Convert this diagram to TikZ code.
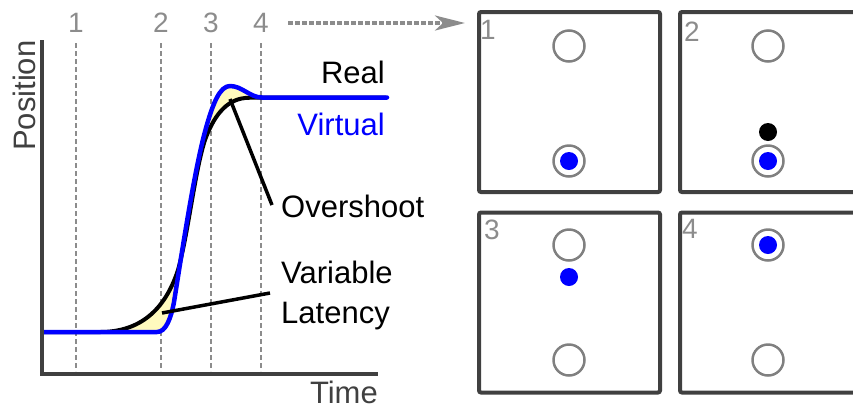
\documentclass[tikz,border=0pt]{standalone}
\usepackage{fontspec}
\setmainfont{Liberation Sans}
\usetikzlibrary{arrows.meta}
\definecolor{axisgray}{HTML}{404040}
\definecolor{guidegray}{HTML}{8C8C8C}
\definecolor{ringgray}{HTML}{808080}
\definecolor{gapyellow}{RGB}{255,250,190}
\definecolor{virtblue}{RGB}{0,0,255}
\begin{document}
\begin{tikzpicture}[x=1pt,y=-1pt,
  lbl/.style={inner sep=0pt, font=\fontsize{31}{37}\selectfont},
  tick/.style={inner sep=0pt, text=guidegray, font=\fontsize{28}{34}\selectfont},
  guide/.style={guidegray, line width=2pt, dash pattern=on 5pt off 3pt},
  axis/.style={axisgray, line width=4pt},
  realcurve/.style={black, line width=4pt, line join=round},
  virtcurve/.style={virtblue, line width=4.5pt, line join=round, line cap=round},
  pointer/.style={black, line width=3.5pt},
  panel/.style={draw=axisgray, line width=4pt, rounded corners=2pt,
    minimum width=181pt, minimum height=180pt, inner sep=0pt},
  ring/.style={circle, draw=ringgray, line width=2.5pt, minimum size=31pt, inner sep=0pt},
  dot/.style={circle, minimum size=18pt, inner sep=0pt},
  flow/.style={guidegray, line width=3.5pt, dash pattern=on 4.5pt off 2.5pt,
    -{Stealth[length=30pt, width=15pt, inset=8pt]}}
]
\useasboundingbox (0,0) rectangle (853,408);
\clip (0,0) rectangle (853,408);

% ---- time instants ----
\node[tick, anchor=base] (t1) at (76,32) {1};
\node[tick, anchor=base] (t2) at (161,32) {2};
\node[tick, anchor=base] (t3) at (211,32) {3};
\node[tick, anchor=base] (t4) at (261,32) {4};
\foreach \x in {76,161,211,261}
  \draw[guide] (\x,43) -- (\x,371);

% ---- gap between real and virtual trajectories ----
\fill[gapyellow] (42,332) -- (157,332)
  .. controls (166,332) and (171,318) .. (174,302)
  .. controls (180,265) and (194,170) .. (206,128)
  .. controls (213,103) and (220,86) .. (230,86)
  .. controls (242,86) and (250,97.5) .. (262,97.5)
  .. controls (256,97.5) and (252,97.5) .. (245,98)
  .. controls (225,100) and (213,118) .. (205,140)
  .. controls (195,170) and (188,235) .. (178,270)
  .. controls (165,310) and (140,332) .. (100,332) -- cycle;

% ---- real trajectory ----
\draw[realcurve] (44,332) -- (100,332)
  .. controls (140,332) and (165,310) .. (178,270)
  .. controls (188,235) and (195,170) .. (205,140)
  .. controls (213,118) and (225,100) .. (245,98)
  .. controls (252,97.5) and (256,97.5) .. (262,97.5) -- (386,97.5);

% ---- virtual trajectory ----
\draw[virtcurve] (44,332) -- (157,332)
  .. controls (166,332) and (171,318) .. (174,302)
  .. controls (180,265) and (194,170) .. (206,128)
  .. controls (213,103) and (220,86) .. (230,86)
  .. controls (242,86) and (250,97.5) .. (262,97.5) -- (387,97.5);

% ---- axes ----
\draw[axis] (42,40) -- (42,374) -- (378,374);
\node[lbl, text=axisgray, rotate=90, anchor=base west] (ylab) at (35,151) {Position};
\node[lbl, text=axisgray, anchor=base east] (xlab) at (378,403) {Time};

% ---- curve labels ----
\node[lbl, anchor=base east] (real) at (385,83) {Real};
\node[lbl, text=virtblue, anchor=base east] (virt) at (385,135) {Virtual};
\node[lbl, anchor=base west] (over) at (281,217) {Overshoot};
\node[lbl, anchor=base west] (var) at (281,283) {Variable};
\node[lbl, anchor=base west] (lat) at (281,323) {Latency};

\coordinate (ovtip) at (230,99);
\coordinate (ovend) at (272,205);
\coordinate (lattip) at (162,313);
\coordinate (latend) at (270,293);
\draw[pointer] (ovtip) -- (ovend);
\draw[pointer] (lattip) -- (latend);

% ---- link to the snapshots ----
\coordinate (flowA) at (288,23);
\coordinate (flowB) at (465,23);
\draw[flow] (flowA) -- (flowB);

% ---- snapshots ----
\node[panel] (p1) at (569.5,102) {};
\node[panel] (p2) at (770.5,102) {};
\node[panel] (p3) at (569.5,302.5) {};
\node[panel] (p4) at (770.5,302.5) {};

\node[tick, anchor=base west] (n1) at (480,39) {1};
\node[tick, anchor=base west] (n2) at (684,41) {2};
\node[tick, anchor=base west] (n3) at (484,239) {3};
\node[tick, anchor=base west] (n4) at (682,238) {4};

% snapshot 1
\node[ring] (r1a) at (569,46) {};
\node[ring] (r1b) at (569,161) {};
\node[dot, fill=virtblue] (v1) at (569,161) {};
% snapshot 2
\node[ring] (r2a) at (768,46) {};
\node[ring] (r2b) at (768,161) {};
\node[dot, fill=black] (h2) at (768,132) {};
\node[dot, fill=virtblue] (v2) at (768,161) {};
% snapshot 3
\node[ring] (r3a) at (569,245) {};
\node[ring] (r3b) at (569,360) {};
\node[dot, fill=virtblue] (v3) at (569,277) {};
% snapshot 4
\node[ring] (r4a) at (768,245) {};
\node[ring] (r4b) at (768,360) {};
\node[dot, fill=virtblue] (v4) at (768,245) {};
\end{tikzpicture}
\end{document}
